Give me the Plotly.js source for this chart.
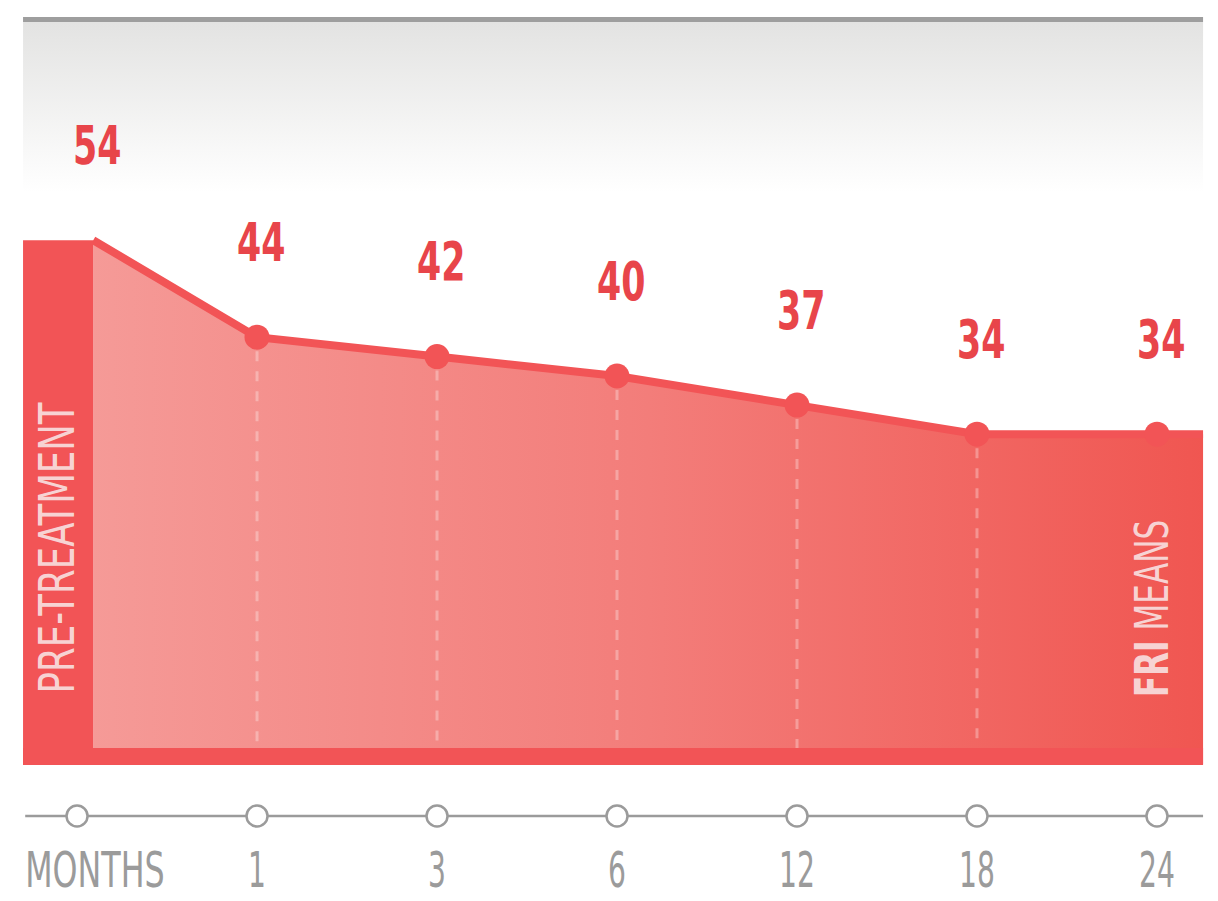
<!DOCTYPE html>
<html>
<head>
<meta charset="utf-8">
<script src="https://cdn.plot.ly/plotly-3.0.1.min.js"></script>
<style>html,body{margin:0;padding:0;background:#fff;}#chart{width:1218px;height:901px;}</style>
</head>
<body>
<div id="chart"></div>
<script>
// ---- data ----
const periods = ['MONTHS', '1', '3', '6', '12', '18', '24'];
const friMeans = [54, 44, 42, 40, 37, 34, 34]; // first value = pre-treatment
const preLabel = 'PRE-TREATMENT';
const seriesLabel = '<b>FRI</b> MEANS';

// ---- layout constants ----
const X_MIN = -0.3, X_MAX = 6.256, PRE_X = 0.09, AXIS_LEFT = -0.288;
const Y_MAX = 78.763, Y_MIN = -14.123;
const PX = 9.7; // pixels per unit
const AXIS_Y = -5.36, AXIS_LABEL_Y = -11.4;
const RED = '#f25456', LABEL = '#e8454a', GRAY = '#9b9b9b', PALE = '#f7d3d3';
const FONT = '"DejaVu Sans Condensed", "DejaVu Sans", sans-serif';

const xs = friMeans.map((v, i) => i === 0 ? PRE_X : i);
const areaX = xs.concat([X_MAX]);
const areaY = friMeans.concat([friMeans[friMeans.length - 1]]);

const traces = [
  // gray gradient band at top
  {
    x: [X_MIN, X_MAX, X_MAX, X_MIN, X_MIN],
    y: [(764 - 192) / PX, (764 - 192) / PX, (764 - 22) / PX, (764 - 22) / PX, (764 - 192) / PX],
    mode: 'none', fill: 'toself', hoverinfo: 'skip', showlegend: false,
    fillgradient: {type: 'vertical', colorscale: [[0, '#ffffff'], [1, '#e3e3e2']]}
  },
  // area
  {
    x: areaX, y: areaY, mode: 'lines', fill: 'tozeroy',
    line: {color: RED, width: 8}, showlegend: false, hoverinfo: 'skip',
    fillgradient: {type: 'horizontal', colorscale: [[0, '#f59a97'], [0.5, '#f37d7a'], [1, '#f05651']]}
  },
  // markers on follow-up points
  {
    x: xs.slice(1), y: friMeans.slice(1), mode: 'markers',
    marker: {color: RED, size: 25}, showlegend: false, hoverinfo: 'skip'
  },
  // bottom timeline markers
  {
    x: periods.map((p, i) => i), y: periods.map(() => AXIS_Y), mode: 'markers',
    marker: {color: '#ffffff', size: 21, line: {color: GRAY, width: 2.5}},
    showlegend: false, hoverinfo: 'skip'
  },
  // timeline labels (first one left-aligned with the axis line start)
  {
    x: periods.map((p, i) => i === 0 ? AXIS_LEFT : i), y: periods.map(() => AXIS_LABEL_Y), mode: 'text',
    text: periods, textposition: periods.map((p, i) => i === 0 ? 'middle right' : 'middle center'),
    textfont: {family: FONT, size: 49, color: GRAY},
    showlegend: false, hoverinfo: 'skip'
  }
];

const shapes = [
  {type: 'rect', xref: 'x', yref: 'y', x0: X_MIN, x1: X_MAX, y0: (764 - 22) / PX, y1: (764 - 17) / PX,
   fillcolor: '#9e9e9e', line: {width: 0}, layer: 'above'},
  {type: 'rect', xref: 'x', yref: 'y', x0: X_MIN, x1: PRE_X, y0: -0.1, y1: friMeans[0],
   fillcolor: RED, line: {width: 0}, layer: 'above'},
  {type: 'rect', xref: 'x', yref: 'y', x0: X_MIN, x1: X_MAX, y0: -0.1, y1: 16 / PX,
   fillcolor: RED, line: {width: 0}, layer: 'above'},
  {type: 'line', xref: 'x', yref: 'y', x0: AXIS_LEFT, x1: X_MAX, y0: AXIS_Y, y1: AXIS_Y,
   line: {color: GRAY, width: 2.5}, layer: 'below'}
];
friMeans.forEach((v, i) => {
  if (i === 0 || i === friMeans.length - 1) return;
  shapes.push({type: 'line', xref: 'x', yref: 'y', x0: i, x1: i, y0: v - 14 / PX, y1: 16 / PX,
    line: {color: 'rgba(255,255,255,0.3)', width: 3, dash: '10px,10px'}, layer: 'above'});
});

const annotations = friMeans.map((v, i) => ({
  x: xs[i], y: v, xref: 'x', yref: 'y', yshift: 95, xshift: 4, showarrow: false,
  text: '<b>' + v + '</b>', font: {family: FONT, size: 53, color: LABEL}
}));
annotations.push({
  x: -0.111, y: (764 - 548) / PX, xref: 'x', yref: 'y', showarrow: false, textangle: -90,
  text: preLabel, font: {family: FONT, size: 50, color: PALE}
});
annotations.push({
  x: 5.975, y: (764 - 608) / PX, xref: 'x', yref: 'y', showarrow: false, textangle: -90,
  text: seriesLabel, font: {family: FONT, size: 46, color: PALE}
});

const layout = {
  width: 1218, height: 901,
  margin: {l: 0, r: 0, t: 0, b: 0},
  paper_bgcolor: '#ffffff', plot_bgcolor: 'rgba(0,0,0,0)',
  xaxis: {range: [-0.428, 6.339], visible: false, fixedrange: true},
  yaxis: {range: [Y_MIN, Y_MAX], visible: false, fixedrange: true},
  shapes: shapes, annotations: annotations, showlegend: false
};

// squeeze glyphs horizontally to mimic the very condensed display face
function squeeze(t, factor) {
  const len = t.getComputedTextLength();
  if (len > 0) {
    t.setAttribute('textLength', (len * factor).toFixed(1));
    t.setAttribute('lengthAdjust', 'spacingAndGlyphs');
  }
}

Plotly.newPlot('chart', traces, layout, {displayModeBar: false, staticPlot: true}).then(() => {
  const annFactors = friMeans.map(() => 0.73).concat([0.79, 0.75]);
  document.querySelectorAll('#chart .annotation').forEach(g => {
    const idx = +g.getAttribute('data-index');
    const t = g.querySelector('.annotation-text');
    if (t) squeeze(t, annFactors[idx] || 0.73);
  });
  document.querySelectorAll('#chart .textpoint text').forEach((t, i) => {
    squeeze(t, t.textContent === periods[0] ? 0.72 : 0.64);
  });
});
</script>
</body>
</html>
